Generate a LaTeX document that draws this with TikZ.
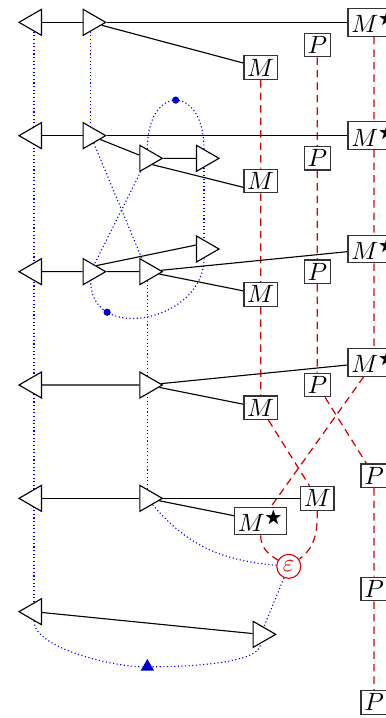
\documentclass[tikz,border=0pt]{standalone}
\usepackage{amssymb}
\usetikzlibrary{shapes.geometric,backgrounds}
\tikzset{
  tri/.style={regular polygon, regular polygon sides=3, draw=black, fill=white, inner sep=0pt, minimum size=12pt, line width=0.45pt},
  trir/.style={tri, shape border rotate=-90},
  tril/.style={tri, shape border rotate=90},
  box/.style={rectangle, draw=black!80, line width=0.5pt, fill=white, inner sep=1.3pt},
  wire/.style={draw=black, line width=0.45pt},
  redl/.style={draw=red!85!black, densely dashed, line width=0.5pt},
  bluel/.style={draw=blue, densely dotted, line width=0.45pt},
  bdot/.style={circle, fill=blue!80!black, inner sep=0pt, minimum size=2.9pt},
  bmark/.style={regular polygon, regular polygon sides=3, fill=blue!80!black, inner sep=0pt, minimum size=6.2pt},
  epsnode/.style={circle, draw=red!90!black, text=red!90!black, fill=white, inner sep=0pt, minimum size=9.6pt, line width=0.45pt},
}
\newcommand{\Mstar}{$M^{\bigstar}$}
\begin{document}
\begin{tikzpicture}[x=9.067pt,y=-9.067pt]
\useasboundingbox (-1.5,-0.984) rectangle (15.527,30.69);
% triangles
\node[tril] (L1) at (0,0) {};
\node[tril] (L2) at (0,5) {};
\node[tril] (L3) at (0,11) {};
\node[tril] (L4) at (0,16) {};
\node[tril] (L5) at (0,21) {};
\node[tril] (L6) at (0,26) {};
\node[trir] (A1) at (2.5,0) {};
\node[trir] (A2) at (2.5,5) {};
\node[trir] (A3) at (2.5,11) {};
\node[trir] (B2) at (5,6) {};
\node[trir] (B3) at (5,11) {};
\node[trir] (B4) at (5,16) {};
\node[trir] (B5) at (5,21) {};
\node[trir] (C2) at (7.5,6) {};
\node[trir] (C3) at (7.5,10) {};
\node[trir] (R6) at (10,27) {};
% boxes
\node[box] (M1) at (10,2) {$M$};
\node[box] (M2) at (10,7) {$M$};
\node[box] (M3) at (10,12) {$M$};
\node[box] (M4) at (10,17) {$M$};
\node[box] (M5) at (12.5,21) {$M$};
\node[box] (Ms5) at (10,22) {\Mstar};
\node[box] (Ms1) at (15,0) {\Mstar};
\node[box] (Ms2) at (15,5) {\Mstar};
\node[box] (Ms3) at (15,10) {\Mstar};
\node[box] (Ms4) at (15,15) {\Mstar};
\node[box] (P1) at (12.5,1) {$P$};
\node[box] (P2) at (12.5,6) {$P$};
\node[box] (P3) at (12.5,11) {$P$};
\node[box] (P4) at (12.5,16) {$P$};
\node[box] (P5) at (15,20) {$P$};
\node[box] (P6) at (15,25) {$P$};
\node[box] (P7) at (15,30) {$P$};
\node[epsnode] (eps) at (11.24,24) {$\varepsilon$};
\node[bmark] (mk) at (5,28.43) {};
\begin{scope}[on background layer]
% blue dotted
\draw[bluel] (L1) -- (L6);
\draw[bluel] (A1) -- (A2);
\draw[bluel] (A2) -- (B3);
\draw[bluel] (B2) -- (A3);
\draw[bluel] (B2) to[out=90,in=90,looseness=2.95] node[bdot,pos=0.5] (d1) {} (C2);
\draw[bluel] (C2) -- (C3);
\draw[bluel] (C3) to[out=-90,in=-90,looseness=1.4] node[bdot,pos=0.76] (d2) {} (A3);
\draw[bluel] (B3) -- (B5);
\draw[bluel] (B5) to[out=-50,in=175] (eps);
\draw[bluel] (eps) -- (R6);
\draw[bluel] (L6) to[out=-90,in=180,looseness=0.6] (mk);
\draw[bluel] (mk) to[out=0,in=-90,looseness=0.5] (R6);
% red dashed
\draw[redl] (M1) -- (M2) -- (M3) -- (M4) -- (M5);
\draw[redl] (P1) -- (P2) -- (P3) -- (P4) -- (P5) -- (P6) -- (P7);
\draw[redl] (Ms1) -- (Ms2) -- (Ms3) -- (Ms4) -- (Ms5);
\draw[redl] (Ms5) to[out=-90,in=150] (eps);
\draw[redl] (M5) to[out=-90,in=35] (eps);
% black wires
\draw[wire] (L1) -- (A1) -- (Ms1);
\draw[wire] (A1) -- (M1);
\draw[wire] (L2) -- (A2) -- (Ms2);
\draw[wire] (A2) -- (B2) -- (C2);
\draw[wire] (B2.-51) -- (M2.200);
\draw[wire] (L3) -- (A3) -- (B3) -- (Ms3);
\draw[wire] (A3.47) -- (C3.154);
\draw[wire] (B3) -- (M3);
\draw[wire] (L4) -- (B4) -- (Ms4);
\draw[wire] (B4) -- (M4);
\draw[wire] (L5) -- (B5) -- (M5);
\draw[wire] (B5) -- (Ms5);
\draw[wire] (L6) -- (R6);
\end{scope}
\end{tikzpicture}
\end{document}
